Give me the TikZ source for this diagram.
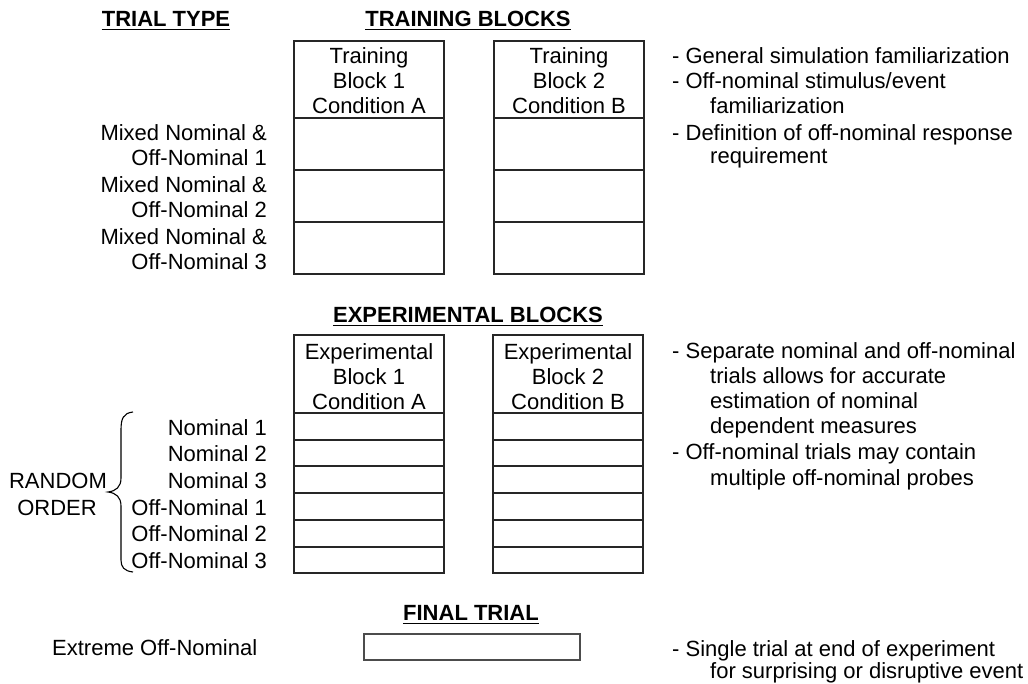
\documentclass[tikz,border=0pt]{standalone}
\usepackage{fontspec}
\setmainfont{Liberation Sans}
\begin{document}
\begin{tikzpicture}[x=1pt,y=-1pt,
  every node/.style={inner sep=0pt, font=\fontsize{22}{25}\selectfont},
  lbl/.style={anchor=base east},
  txt/.style={anchor=base west},
  ctr/.style={anchor=base},
  hd/.style={anchor=base, font=\fontsize{22}{25}\selectfont\bfseries},
  uline/.style={line width=1.5pt},
  grid/.style={line width=1.2pt, draw=black!85},
  bracelin/.style={line width=1.1pt}
]
\useasboundingbox (0,0) rectangle (1028,683);

% ---------- headings ----------
\node[hd] (htt) at (166,26) {TRIAL TYPE};
\node[hd] (htb) at (468,26) {TRAINING BLOCKS};
\node[hd] (heb) at (468,322) {EXPERIMENTAL BLOCKS};
\node[hd] (hft) at (471,620) {FINAL TRIAL};
\foreach \h in {htt,htb,heb,hft}
  \draw[uline] ([yshift=-3.5pt]\h.base west) -- ([yshift=-3.5pt]\h.base east);

% ---------- training blocks ----------
\draw[grid] (294,41) rectangle (444,274);
\foreach \y in {118,170,222} \draw[grid] (294,\y) -- (444,\y);
\draw[grid] (494,41) rectangle (644,274);
\foreach \y in {118,170,222} \draw[grid] (494,\y) -- (644,\y);

\node[ctr] (ta1) at (369,63) {Training};
\node[ctr] (ta2) at (369,88) {Block 1};
\node[ctr] (ta3) at (369,113) {Condition A};
\node[ctr] (tb1) at (569,63) {Training};
\node[ctr] (tb2) at (569,88) {Block 2};
\node[ctr] (tb3) at (569,113) {Condition B};

\node[lbl] (m1a) at (267,140) {Mixed Nominal \&};
\node[lbl] (m1b) at (267,165) {Off-Nominal 1};
\node[lbl] (m2a) at (267,192) {Mixed Nominal \&};
\node[lbl] (m2b) at (267,217) {Off-Nominal 2};
\node[lbl] (m3a) at (267,244) {Mixed Nominal \&};
\node[lbl] (m3b) at (267,269) {Off-Nominal 3};

\node[txt] (r1) at (672,63) {- General simulation familiarization};
\node[txt] (r2) at (672,88) {- Off-nominal stimulus/event};
\node[txt] (r3) at (710,113) {familiarization};
\node[txt] (r4) at (672,140) {- Definition of off-nominal response};
\node[txt] (r5) at (710,163) {requirement};

% ---------- experimental blocks ----------
\draw[grid] (294,335) rectangle (444,573);
\foreach \y in {413,440,466,493,520,547} \draw[grid] (294,\y) -- (444,\y);
\draw[grid] (493,335) rectangle (643,573);
\foreach \y in {413,440,466,493,520,547} \draw[grid] (493,\y) -- (643,\y);

\node[ctr] (ea1) at (369,359) {Experimental};
\node[ctr] (ea2) at (369,384) {Block 1};
\node[ctr] (ea3) at (369,409) {Condition A};
\node[ctr] (eb1) at (568,359) {Experimental};
\node[ctr] (eb2) at (568,384) {Block 2};
\node[ctr] (eb3) at (568,409) {Condition B};

\node[lbl] (n1) at (267,435) {Nominal 1};
\node[lbl] (n2) at (267,461) {Nominal 2};
\node[lbl] (n3) at (267,488) {Nominal 3};
\node[lbl] (o1) at (267,515) {Off-Nominal 1};
\node[lbl] (o2) at (267,541) {Off-Nominal 2};
\node[lbl] (o3) at (267,568) {Off-Nominal 3};

\node[ctr] (ro1) at (58,488) {RANDOM};
\node[ctr] (ro2) at (57,515) {ORDER};

\draw[bracelin] (133,412) .. controls (123,413) and (121,419) .. (121,430)
  -- (121,478) .. controls (121,487) and (116,491) .. (108,492)
  .. controls (116,493) and (121,497) .. (121,506)
  -- (121,560) .. controls (121,567) and (124,571) .. (133,572);

\node[txt] (s1) at (672,358) {- Separate nominal and off-nominal};
\node[txt] (s2) at (710,383) {trials allows for accurate};
\node[txt] (s3) at (710,408) {estimation of nominal};
\node[txt] (s4) at (710,433) {dependent measures};
\node[txt] (s5) at (672,459) {- Off-nominal trials may contain};
\node[txt] (s6) at (710,485) {multiple off-nominal probes};

% ---------- final trial ----------
\draw[grid, draw=black!70] (364,634) rectangle (580,660);
\node[txt] (ex) at (52,655) {Extreme Off-Nominal};
\node[txt] (f1) at (672,656) {- Single trial at end of experiment};
\node[txt] (f2) at (710,678) {for surprising or disruptive event};
\end{tikzpicture}
\end{document}
